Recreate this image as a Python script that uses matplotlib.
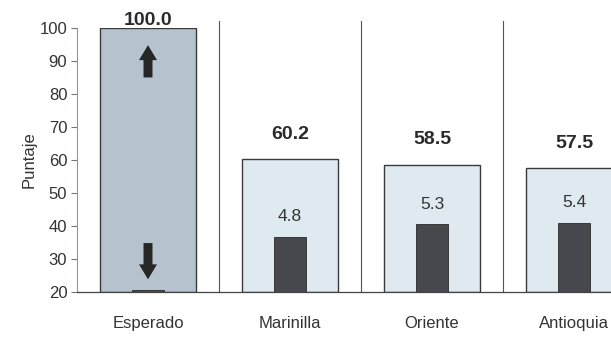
import numpy as np
import matplotlib.pyplot as plt

plt.rcParams['font.family'] = ['Liberation Sans', 'DejaVu Sans']

# data
categories = ['Esperado', 'Marinilla', 'Oriente', 'Antioquia']
puntaje = [100.0, 60.2, 58.5, 57.5]
inner_height = [20.5, 36.7, 40.5, 41.0]
inner_labels = ['', '4.8', '5.3', '5.4']

fig = plt.figure(figsize=(6.11, 3.41), dpi=100)
ax = fig.add_axes([0.126, 0.144, 0.874, 0.774])

x = np.arange(len(categories))
colors = ['#b6c3cf'] + ['#dfeaf0'] * 3
ax.bar(x, np.array(puntaje) - 20, bottom=20, width=0.67, color=colors,
       edgecolor='#3a3a3a', linewidth=1.0, zorder=2)
ax.bar(x, np.array(inner_height) - 20, bottom=20, width=0.225,
       color='#47484d', edgecolor='#2a2a2a', linewidth=0.6, zorder=3)

# labels
for i, v in enumerate(puntaje):
    off = -0.3 if i == 0 else 5.0
    ax.text(x[i], v + off, f'{v:.1f}', ha='center', va='bottom',
            fontsize=14, fontweight='bold', color='#2a2a2a')
for i, lab in enumerate(inner_labels):
    if lab:
        ax.text(x[i], inner_height[i] + 3.8, lab, ha='center', va='bottom',
                fontsize=12.5, color='#333333')

# block arrows in the expected bar
astyle = 'simple,head_length=0.4,head_width=0.48,tail_width=0.24'
for tip, tail in [(94.8, 85.0), (23.8, 34.8)]:
    ax.annotate('', xy=(0, tip), xytext=(0, tail),
                arrowprops=dict(arrowstyle=astyle, mutation_scale=27,
                                shrinkA=0, shrinkB=0,
                                color='#262626', lw=0), zorder=4)

# separators between categories
for s in [0.5, 1.5, 2.5]:
    ax.plot([s, s], [20, 102], color='#555555', lw=0.8, zorder=1, clip_on=False)

ax.set_xlim(-0.5, 3.26)
ax.set_ylim(20, 100)
ax.set_yticks(np.arange(20, 101, 10))
ax.set_xticks(x)
ax.set_xticklabels(categories, fontsize=12, color='#333333')
ax.tick_params(axis='x', length=0, pad=17)
ax.tick_params(axis='y', labelsize=12, labelcolor='#333333', length=4,
               color='#777777', direction='out', pad=3)
ax.set_ylabel('Puntaje', fontsize=12, color='#333333', labelpad=2)

for side in ['top', 'right']:
    ax.spines[side].set_visible(False)
ax.spines['left'].set_color('#8a9aa0')
ax.spines['left'].set_linewidth(0.8)
ax.spines['bottom'].set_color('#444444')
ax.spines['bottom'].set_linewidth(0.9)

plt.savefig('out.png', dpi=100)
